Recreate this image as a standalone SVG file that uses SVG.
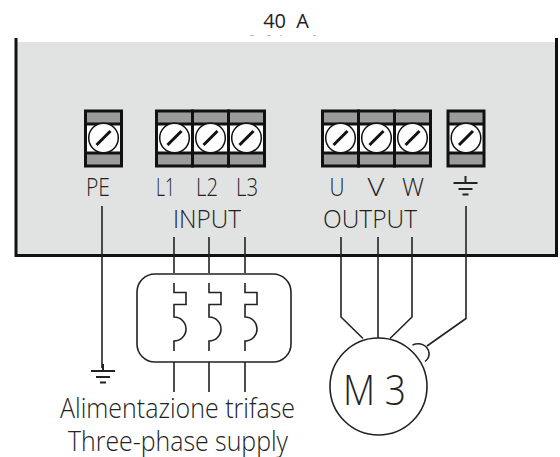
<svg xmlns="http://www.w3.org/2000/svg" width="560" height="457" viewBox="0 0 560 457">
<style>
.t{font-family:"Open Sans","Noto Sans","Liberation Sans",sans-serif;font-weight:300;fill:#222;text-anchor:middle}
.l{font-size:25px}
.w{fill:none;stroke:#222;stroke-width:1.6}
.o{fill:none;stroke:#111;stroke-width:3}
.g{fill:#9b9b9b}
.c{fill:#fff;stroke:#111;stroke-width:1.5}
.s{stroke:#111;stroke-width:3}
.e{stroke:#222;stroke-width:2}
</style>
<defs>
<g id="cell">
<rect x="-18" y="-27" width="36" height="55" class="g"/>
<rect x="-18" y="-14" width="36" height="29" fill="#fff"/>
<path d="M-18 -27H18V28H-18Z M-18 -14H18 M-18 15H18" class="o"/>
<circle cx="0" cy="0" r="14.8" class="c"/>
<path d="M-7 7L7 -7" class="s"/>
</g>
<g id="earth"><path d="M0 -7V0M-12 0H12M-7 6H7M-3 11.500H3" class="e"/></g>
</defs>
<rect id="panel" x="16" y="42" width="540.500" height="213" fill="#e1e3e2"/>
<path d="M16 38V255.500H556.500V38" fill="none" stroke="#111" stroke-width="3"/>
<g stroke="#bbb" stroke-width="1"><path d="M250 35.500h4M267 35.500h4M280 35.500h1.500M313 35.500h3"/></g>
<text class="t" x="286" y="28" font-size="20" style="font-weight:400;word-spacing:5px">40 A</text>
<g id="connectors" class="w">
<path d="M102 206V368"/>
<path d="M174 237V273M209 237V273M245 237V273"/>
<path d="M174 362V392M209 362V392M245 362V392"/>
<path d="M341 237V317L363 338.500"/>
<path d="M378 237V338"/>
<path d="M412 237V317L390 338.500"/>
<path d="M466 206V318.500L427 346"/>
</g>
<g id="PE"><use href="#cell" x="103.500" y="138"/><text class="t l" x="98" y="196" textLength="24" lengthAdjust="spacingAndGlyphs">PE</text></g>
<g id="L1"><use href="#cell" x="174.500" y="138"/><text class="t l" x="165.500" y="196" textLength="19" lengthAdjust="spacingAndGlyphs">L1</text></g>
<g id="L2"><use href="#cell" x="210.500" y="138"/><text class="t l" x="207" y="196" textLength="22" lengthAdjust="spacingAndGlyphs">L2</text></g>
<g id="L3"><use href="#cell" x="246.500" y="138"/><text class="t l" x="247" y="196" textLength="22" lengthAdjust="spacingAndGlyphs">L3</text></g>
<g id="U"><use href="#cell" x="340.500" y="138"/><text class="t l" x="337" y="196" textLength="15" lengthAdjust="spacingAndGlyphs">U</text></g>
<g id="V"><use href="#cell" x="376.500" y="138"/><text class="t l" x="376" y="196" textLength="17" lengthAdjust="spacingAndGlyphs">V</text></g>
<g id="W"><use href="#cell" x="412.500" y="138"/><text class="t l" x="413" y="196" textLength="22" lengthAdjust="spacingAndGlyphs">W</text></g>
<g id="PE2"><use href="#cell" x="466" y="138"/><use href="#earth" x="465.500" y="183"/></g>
<text id="input" class="t l" x="207" y="228" textLength="68" lengthAdjust="spacingAndGlyphs">INPUT</text>
<text id="output" class="t l" x="370" y="228" textLength="94" lengthAdjust="spacingAndGlyphs">OUTPUT</text>
<g id="ground"><use href="#earth" x="103" y="371"/></g>
<g id="fuses" class="w">
<rect x="137" y="274" width="154" height="88" rx="18"/>
<path id="f1" d="M174 283V292.500H186V304.500H174V317A12 12 0 0 1 174 341V351"/>
<path d="M209 283V292.500H221V304.500H209V317A12 12 0 0 1 209 341V351"/>
<path d="M245 283V292.500H257V304.500H245V317A12 12 0 0 1 245 341V351"/>
</g>
<g id="motor">
<circle cx="378.500" cy="386.500" r="48.500" fill="none" stroke="#222" stroke-width="1.600"/>
<path class="w" d="M412.500 345C420 342 428 345 429 353C429.500 356 428 359 425 361.500"/>
<text class="t" x="374.500" y="405" font-size="42" textLength="63" lengthAdjust="spacingAndGlyphs">M 3</text>
</g>
<g id="caption">
<text class="t" x="177.500" y="418" font-size="27" textLength="235" lengthAdjust="spacingAndGlyphs">Alimentazione trifase</text>
<text class="t" x="178" y="451" font-size="27" textLength="220" lengthAdjust="spacingAndGlyphs">Three-phase supply</text>
</g>
</svg>
